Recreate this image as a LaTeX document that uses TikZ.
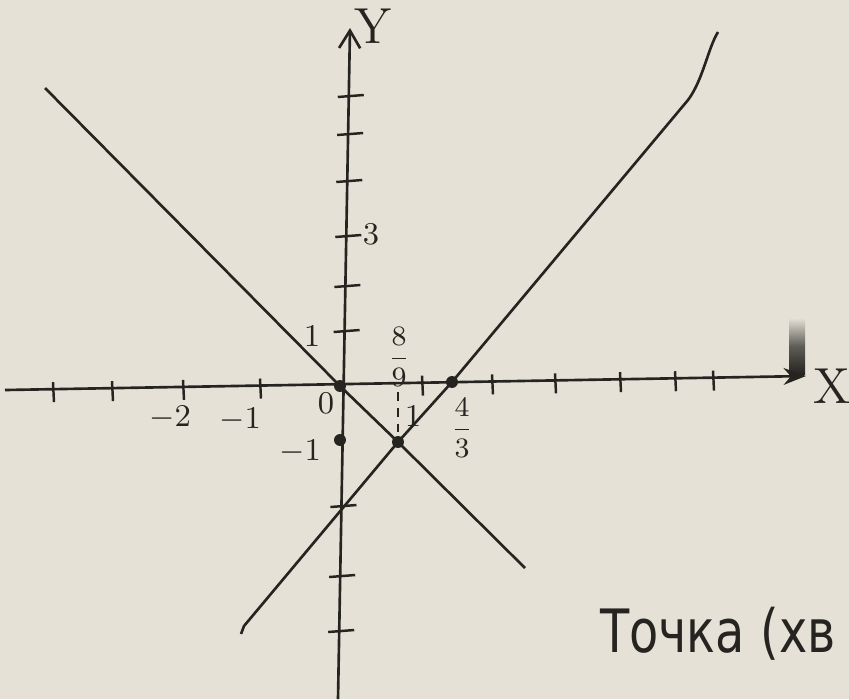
\documentclass[tikz,border=0pt]{standalone}
\usepackage{fontspec}
\newfontfamily\cyrfont{DejaVu Sans}
\usetikzlibrary{arrows.meta}
\definecolor{paper}{RGB}{229,225,214}
\definecolor{ink}{RGB}{38,36,33}

\begin{document}
\begin{tikzpicture}[
    x=0.01cm, y=-0.01cm,
    >=Stealth,
    line/.style={draw=ink, line width=0.75pt},
    tick/.style={draw=ink, line width=0.7pt},
    dot/.style={circle, fill=ink, minimum size=3.4pt, inner sep=0pt},
    lab/.style={text=ink, inner sep=1pt, font=\small}
]
\useasboundingbox (0,0) rectangle (849,699);
\fill[paper] (0,0) rectangle (849,699);

% Axes
\coordinate (xl) at (5,390);
\coordinate (xr) at (806,376);
\coordinate (yb) at (338,699);
\coordinate (yt) at (350,28);
\shade[top color=paper, bottom color=ink, middle color=ink!70!paper] (789,318) rectangle (805,374);
\draw[line, ->] (xl) -- (xr);
\draw[line, -{Straight Barb[length=5pt, width=6pt]}] (yb) -- (yt);

% Ticks
\foreach \t in {53,112,183,260,422,492,555,620,675,713}
    \draw[tick] (\t,{390-0.0176*(\t-5)-7}) -- ++(1,20);
\foreach \t in {97,135,182,237,287,332,507,577,632}
    \draw[tick] ({338+0.0179*(699-\t)-11},\t) -- ++(26,-2);

% Points
\node[dot] (O) at (340,386) {};
\node[dot] (A) at (452,382) {};
\node[dot] (B) at (340,440) {};
\node[dot] (P) at (398,442) {};

% Lines
\coordinate (a1) at (45,88);
\coordinate (a2) at (525,568);
\coordinate (hk) at (241,634);
\coordinate (b1) at (244,626);
\coordinate (b2) at (688,100);
\coordinate (b3) at (718,32);
\coordinate (p8) at (398,392);
\draw[line] (a1) -- (O.center) -- (P.center) -- (a2);
\draw[line] (hk) -- (b1) -- (P.center) -- (A.center) -- (b2)
    .. controls (703,80) and (708,48) .. (b3);
\draw[tick, dash pattern=on 2.5pt off 2pt] (p8) -- (P.center);

% Labels
\node[lab] (lm2) at (170,418) {$-2$};
\node[lab] (lm1) at (240,420) {$-1$};
\node[lab] (l0)  at (326,403) {$0$};
\node[lab] (l1)  at (413,416) {$1$};
\node[lab, font=\footnotesize] (l89) at (399,357) {$\displaystyle\frac{8}{9}$};
\node[lab, font=\footnotesize] (l43) at (462,428) {$\displaystyle\frac{4}{3}$};
\node[lab] (ly1)  at (312,336) {$1$};
\node[lab] (ly3)  at (371,234) {$3$};
\node[lab] (lym1) at (300,452) {$-1$};
\node[lab, font=\Large] (lx) at (832,386) {X};
\node[lab, font=\Large] (ly) at (373,26) {Y};
\node[lab, anchor=base west, font=\cyrfont\fontsize{17}{17}\selectfont] (txt)
    at (596,652) {\scalebox{0.8}[1]{Точка (хв}};

\end{tikzpicture}
\end{document}
